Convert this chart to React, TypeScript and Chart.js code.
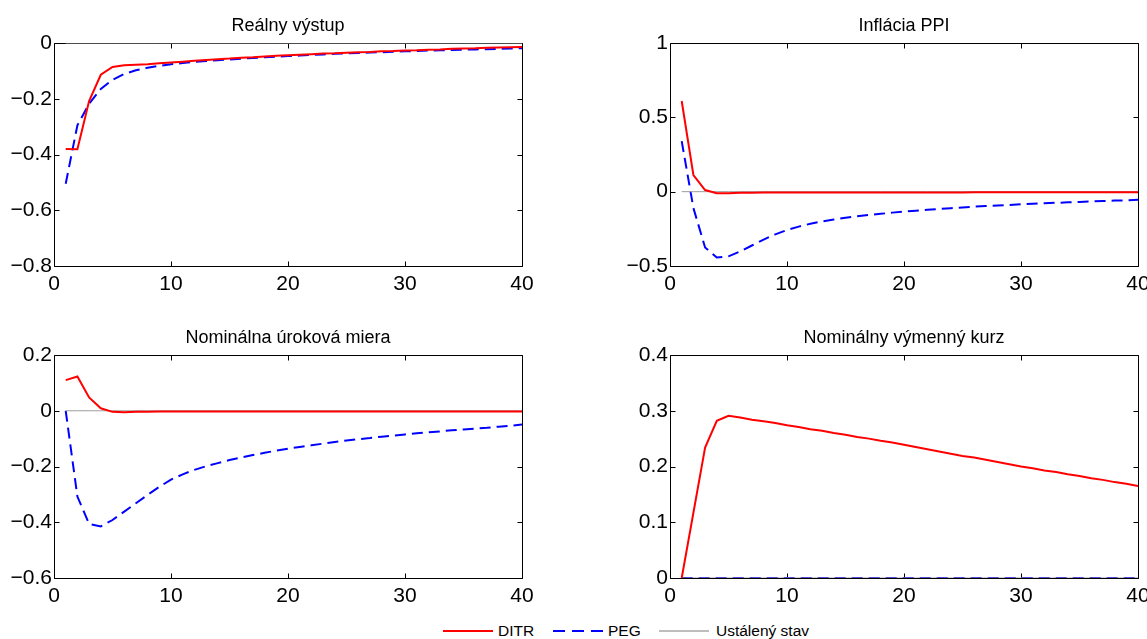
import React, { useEffect, useRef } from "react";
import { Chart, registerables } from "chart.js";

Chart.register(...registerables);

const FONT = "'Liberation Sans', Arial, Helvetica, sans-serif";

// Horizon (quarters after the shock)
const periods = [
  1, 2, 3, 4, 5, 6, 7, 8, 9, 10, 11, 12, 13, 14, 15, 16, 17, 18, 19, 20,
  21, 22, 23, 24, 25, 26, 27, 28, 29, 30, 31, 32, 33, 34, 35, 36, 37, 38, 39, 40,
];

const xTicks = [0, 10, 20, 30, 40];

// Reálny výstup
const outputDITR = [
  -0.38, -0.381, -0.208, -0.114, -0.086, -0.08, -0.078, -0.076, -0.073, -0.07,
  -0.067, -0.064, -0.061, -0.058, -0.056, -0.053, -0.051, -0.048, -0.046, -0.044,
  -0.042, -0.04, -0.038, -0.037, -0.035, -0.033, -0.032, -0.03, -0.029, -0.027,
  -0.026, -0.024, -0.023, -0.021, -0.02, -0.019, -0.017, -0.016, -0.015, -0.014,
];
const outputPEG = [
  -0.505, -0.295, -0.218, -0.165, -0.132, -0.111, -0.098, -0.089, -0.082, -0.076,
  -0.072, -0.068, -0.065, -0.062, -0.059, -0.056, -0.054, -0.051, -0.049, -0.047,
  -0.045, -0.043, -0.041, -0.039, -0.037, -0.036, -0.034, -0.033, -0.031, -0.03,
  -0.029, -0.027, -0.026, -0.025, -0.024, -0.023, -0.022, -0.021, -0.02, -0.019,
];

// Inflácia PPI
const inflationDITR = [
  0.61, 0.112, 0.011, -0.01, -0.01, -0.008, -0.007, -0.006, -0.006, -0.006,
  -0.006, -0.005, -0.005, -0.005, -0.005, -0.005, -0.005, -0.005, -0.005, -0.005,
  -0.005, -0.005, -0.005, -0.005, -0.005, -0.004, -0.004, -0.004, -0.004, -0.004,
  -0.004, -0.004, -0.004, -0.004, -0.004, -0.004, -0.004, -0.004, -0.004, -0.004,
];
const inflationPEG = [
  0.34, -0.11, -0.375, -0.443, -0.435, -0.402, -0.362, -0.322, -0.287, -0.258,
  -0.235, -0.216, -0.2, -0.187, -0.176, -0.166, -0.157, -0.149, -0.141, -0.134,
  -0.128, -0.122, -0.116, -0.111, -0.106, -0.101, -0.097, -0.093, -0.089, -0.085,
  -0.082, -0.078, -0.075, -0.072, -0.069, -0.066, -0.063, -0.06, -0.058, -0.055,
];

// Nominálna úroková miera
const rateDITR = [
  0.11, 0.123, 0.048, 0.009, -0.004, -0.005, -0.004, -0.004, -0.003, -0.003,
  -0.003, -0.003, -0.003, -0.003, -0.003, -0.003, -0.003, -0.003, -0.003, -0.003,
  -0.003, -0.003, -0.003, -0.003, -0.003, -0.003, -0.003, -0.003, -0.003, -0.003,
  -0.003, -0.003, -0.003, -0.003, -0.003, -0.003, -0.003, -0.003, -0.003, -0.003,
];
const ratePEG = [
  0, -0.308, -0.406, -0.415, -0.392, -0.362, -0.332, -0.302, -0.273, -0.247,
  -0.228, -0.212, -0.199, -0.188, -0.177, -0.168, -0.159, -0.151, -0.143, -0.136,
  -0.13, -0.124, -0.118, -0.112, -0.107, -0.102, -0.098, -0.093, -0.089, -0.085,
  -0.081, -0.077, -0.074, -0.07, -0.067, -0.064, -0.061, -0.057, -0.054, -0.049,
];

// Nominálny výmenný kurz
const fxDITR = [
  0, 0.117, 0.234, 0.282, 0.291, 0.288, 0.284, 0.281, 0.278, 0.274,
  0.271, 0.267, 0.264, 0.26, 0.257, 0.253, 0.25, 0.246, 0.243, 0.239,
  0.235, 0.231, 0.227, 0.223, 0.219, 0.216, 0.212, 0.208, 0.204, 0.2,
  0.197, 0.193, 0.19, 0.186, 0.183, 0.179, 0.176, 0.172, 0.169, 0.165,
];
const fxPEG = [
  0, 0, 0, 0, 0, 0, 0, 0, 0, 0, 0, 0, 0, 0, 0, 0, 0, 0, 0, 0,
  0, 0, 0, 0, 0, 0, 0, 0, 0, 0, 0, 0, 0, 0, 0, 0, 0, 0, 0, 0,
];

// Ustálený stav (steady state)
const steadyState = [
  0, 0, 0, 0, 0, 0, 0, 0, 0, 0, 0, 0, 0, 0, 0, 0, 0, 0, 0, 0,
  0, 0, 0, 0, 0, 0, 0, 0, 0, 0, 0, 0, 0, 0, 0, 0, 0, 0, 0, 0,
];

const seriesLabels = ["DITR", "PEG", "Ustálený stav"];
const seriesColors = ["#ff0000", "#0000ff", "#9c9c9c"];

const fmtTick = (v: number) => {
  const r = Math.round(v * 1e6) / 1e6;
  if (r === 0) return "0";
  return (r < 0 ? "\u2212" : "") + String(Math.abs(r));
};

// Box around the plot area with inward tick marks on all four sides
const axesBox = {
  id: "axesBox",
  beforeDatasetsDraw(chart: any) {
    const { ctx, chartArea, scales } = chart;
    const l = Math.round(chartArea.left) + 0.5;
    const r = Math.round(chartArea.right) + 0.5;
    const t = Math.round(chartArea.top) + 0.5;
    const b = Math.round(chartArea.bottom) + 0.5;
    const len = 5;
    ctx.save();
    ctx.strokeStyle = "#000";
    ctx.lineWidth = 1;
    ctx.beginPath();
    ctx.rect(l, t, r - l, b - t);
    for (const tk of scales.y.ticks) {
      const py = Math.round(scales.y.getPixelForValue(tk.value)) + 0.5;
      ctx.moveTo(l, py);
      ctx.lineTo(l + len, py);
      ctx.moveTo(r, py);
      ctx.lineTo(r - len, py);
    }
    for (const tk of scales.x.ticks) {
      const px = Math.round(scales.x.getPixelForValue(tk.value)) + 0.5;
      ctx.moveTo(px, b);
      ctx.lineTo(px, b - len);
      ctx.moveTo(px, t);
      ctx.lineTo(px, t + len);
    }
    ctx.stroke();
    ctx.restore();
  },
};

// Panel heading centred over the plot area
const panelTitle = {
  id: "panelTitle",
  afterDraw(chart: any, _args: any, opts: any) {
    const { ctx, chartArea } = chart;
    ctx.save();
    ctx.fillStyle = "#000";
    ctx.font = `18px ${FONT}`;
    ctx.textAlign = "center";
    ctx.textBaseline = "alphabetic";
    ctx.fillText(opts.text, (chartArea.left + chartArea.right) / 2, chartArea.top - 12);
    ctx.restore();
  },
};

type PanelProps = {
  title: string;
  ditr: number[];
  peg: number[];
  yMin: number;
  yMax: number;
  yStep: number;
  left: number;
  top: number;
  width: number;
  plotLeft: number;
  plotRight: number;
};

const CANVAS_H = 300;
const PLOT_TOP = 43;
const XAXIS_H = 34;
const TICK_SIZE = 21;

function Panel(p: PanelProps) {
  const ref = useRef<HTMLCanvasElement>(null);

  useEffect(() => {
    const toPoints = (arr: number[]) => periods.map((x, i) => ({ x, y: arr[i] }));
    const chart = new Chart(ref.current!, {
      type: "line",
      data: {
        datasets: [
          {
            label: seriesLabels[0],
            data: toPoints(p.ditr),
            borderColor: seriesColors[0],
            borderWidth: 2,
            pointRadius: 0,
            tension: 0,
            order: 0,
          },
          {
            label: seriesLabels[1],
            data: toPoints(p.peg),
            borderColor: seriesColors[1],
            borderWidth: 2,
            borderDash: [11, 6],
            pointRadius: 0,
            tension: 0,
            order: 2,
          },
          {
            label: seriesLabels[2],
            data: toPoints(steadyState),
            borderColor: seriesColors[2],
            borderWidth: 1,
            pointRadius: 0,
            tension: 0,
            order: 1,
          },
        ],
      },
      options: {
        responsive: false,
        animation: false,
        events: [],
        layout: {
          padding: { left: 0, top: PLOT_TOP, right: p.width - p.plotRight, bottom: 0 },
        },
        plugins: {
          legend: { display: false },
          tooltip: { enabled: false },
          title: { display: false },
          panelTitle: { text: p.title },
        } as any,
        scales: {
          x: {
            type: "linear",
            min: 0,
            max: 40,
            grid: { display: false, drawTicks: false },
            border: { display: false },
            afterBuildTicks: (s: any) => {
              s.ticks = xTicks.map((value) => ({ value }));
            },
            ticks: {
              color: "#000",
              padding: 6,
              maxRotation: 0,
              autoSkip: false,
              font: { family: FONT, size: TICK_SIZE },
              callback: (v: any) => fmtTick(Number(v)),
            },
            afterFit: (s: any) => {
              s.height = XAXIS_H;
              s.paddingLeft = 0;
              s.paddingRight = 0;
            },
          },
          y: {
            type: "linear",
            min: p.yMin,
            max: p.yMax,
            grid: { display: false, drawTicks: false },
            border: { display: false },
            ticks: {
              stepSize: p.yStep,
              color: "#000",
              padding: 2,
              autoSkip: false,
              font: { family: FONT, size: TICK_SIZE },
              callback: (v: any) => fmtTick(Number(v)),
            },
            afterFit: (s: any) => {
              s.width = p.plotLeft;
              s.paddingTop = 0;
              s.paddingBottom = 0;
            },
          },
        },
      },
      plugins: [axesBox, panelTitle],
    });
    return () => chart.destroy();
  }, []);

  return (
    <canvas
      ref={ref}
      width={p.width}
      height={CANVAS_H}
      style={{ position: "absolute", left: p.left, top: p.top, width: p.width, height: CANVAS_H }}
    />
  );
}

const legendText: React.CSSProperties = {
  position: "absolute",
  top: 622,
  fontFamily: FONT,
  fontSize: 15.5,
  lineHeight: "18px",
  color: "#000",
  whiteSpace: "nowrap",
};

export default function App() {
  return (
    <div
      style={{
        position: "absolute",
        left: 0,
        top: 0,
        width: 1147,
        height: 639,
        overflow: "hidden",
        background: "#fff",
      }}
    >
      <Panel title="Reálny výstup" ditr={outputDITR} peg={outputPEG} yMin={-0.8} yMax={0} yStep={0.2}
        left={0} top={0} width={560} plotLeft={54} plotRight={522} />
      <Panel title="Inflácia PPI" ditr={inflationDITR} peg={inflationPEG} yMin={-0.5} yMax={1} yStep={0.5}
        left={600} top={0} width={547} plotLeft={70} plotRight={538} />
      <Panel title="Nominálna úroková miera" ditr={rateDITR} peg={ratePEG} yMin={-0.6} yMax={0.2} yStep={0.2}
        left={0} top={312} width={560} plotLeft={54} plotRight={522} />
      <Panel title="Nominálny výmenný kurz" ditr={fxDITR} peg={fxPEG} yMin={0} yMax={0.4} yStep={0.1}
        left={600} top={312} width={547} plotLeft={70} plotRight={538} />

      <div style={{ position: "absolute", left: 443, top: 630, width: 50, height: 2, background: seriesColors[0] }} />
      <div style={{ ...legendText, left: 498 }}>{seriesLabels[0]}</div>
      <div
        style={{
          position: "absolute",
          left: 553,
          top: 630,
          width: 50,
          height: 2,
          background: `repeating-linear-gradient(90deg, ${seriesColors[1]} 0 12px, transparent 12px 19px)`,
        }}
      />
      <div style={{ ...legendText, left: 608 }}>{seriesLabels[1]}</div>
      <div style={{ position: "absolute", left: 659, top: 630, width: 50, height: 2, background: "#bdbdbd" }} />
      <div style={{ ...legendText, left: 716 }}>{seriesLabels[2]}</div>
    </div>
  );
}
